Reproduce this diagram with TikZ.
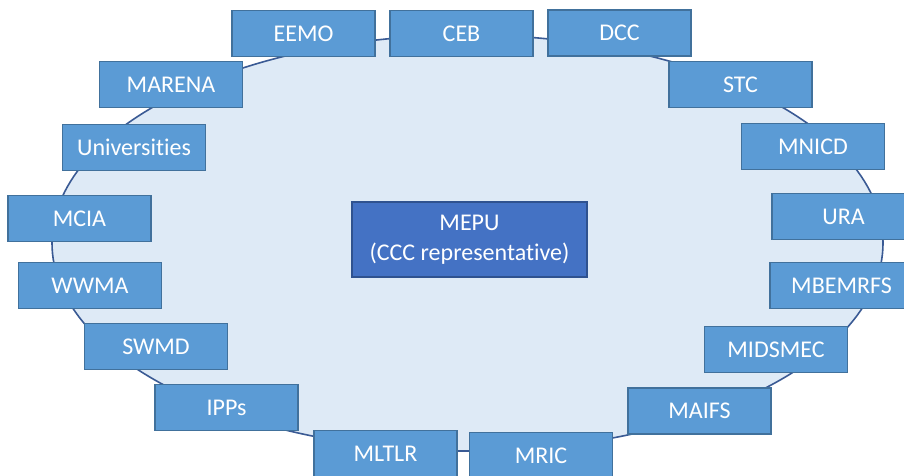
\documentclass[tikz,border=0pt]{standalone}
\usepackage{fontspec}
\setmainfont{Carlito}[Ligatures={NoCommon,NoRequired,NoContextual}]
\definecolor{boxfill}{HTML}{5B9BD5}
\definecolor{boxline}{HTML}{41719C}
\definecolor{ellfill}{HTML}{DEEAF6}
\definecolor{ellline}{HTML}{3A5A94}
\definecolor{cenfill}{HTML}{4472C4}
\definecolor{cenline}{HTML}{2F528F}
\begin{document}
\begin{tikzpicture}[x=1pt,y=-1pt,
  member/.style={draw=boxline,fill=boxfill,line width=1.3pt,minimum width=143pt,minimum height=46pt,inner sep=0pt,text=white,font=\fontsize{24}{29}\selectfont},
  centre/.style={draw=cenline,fill=cenfill,line width=1.3pt,minimum width=235pt,minimum height=75pt,inner sep=0pt,text=white,align=center,font=\fontsize{24}{30}\selectfont}]
\useasboundingbox (0,0) rectangle (904,476);
\draw[ellline,fill=ellfill,line width=1.6pt] (467.5,243) ellipse [x radius=415.5pt, y radius=208pt];
\node[centre] (mepu) at (469.5,239.5) {MEPU\\(CCC representative)};
\node[member] (eemo) at (303.5,33.5) {EEMO};
\node[member] (ceb) at (461.5,33.5) {CEB};
\node[member] (dcc) at (619.5,33) {DCC};
\node[member] (marena) at (171,84.5) {MARENA};
\node[member] (stc) at (740.5,84.5) {STC};
\node[member] (univ) at (134,147.5) {Universities};
\node[member] (mnicd) at (813,146.5) {MNICD};
\node[member] (mcia) at (79.5,218.5) {MCIA};
\node[member] (ura) at (843.5,216.5) {URA};
\node[member] (wwma) at (90,285.5) {WWMA};
\node[member] (mbemrfs) at (841.5,285.5) {MBEMRFS};
\node[member] (swmd) at (156,346.5) {SWMD};
\node[member] (midsmec) at (776,349.5) {MIDSMEC};
\node[member] (ipps) at (226.5,407.5) {IPPs};
\node[member] (maifs) at (699.5,411) {MAIFS};
\node[member] (mltlr) at (385.5,453.5) {MLTLR};
\node[member] (mric) at (541,455.5) {MRIC};
\end{tikzpicture}
\end{document}
